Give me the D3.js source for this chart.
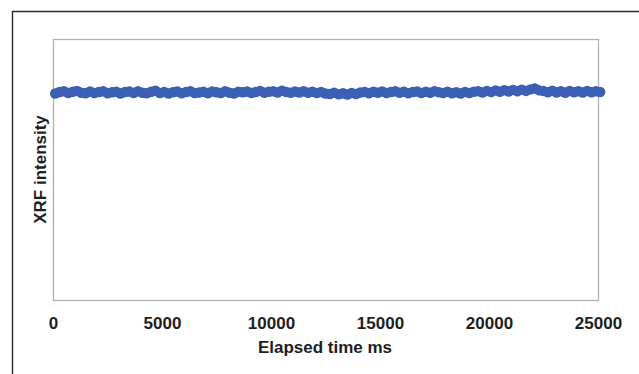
<!DOCTYPE html>
<html>
<head>
<meta charset="utf-8">
<script src="https://cdn.jsdelivr.net/npm/d3@7"></script>
<style>
  body { margin: 0; background: #fff; }
  svg { display: block; font-family: "Liberation Sans", Arial, sans-serif; }
</style>
</head>
<body>
<div id="chart"></div>
<script>
// XRF intensity samples, one every 200 ms starting at 100 ms
const sampleStartMs = 100;
const sampleStepMs = 200;
const intensity = [
  79.1, 79.7, 80.0, 79.3, 79.8, 80.1, 79.4, 79.2, 79.9, 79.3, 79.7,
  80.0, 79.2, 79.6, 79.8, 79.1, 79.7, 79.9, 79.3, 80.0, 79.4, 79.2,
  79.8, 80.2, 79.3, 79.7, 79.1, 79.6, 79.9, 79.2, 79.7, 80.0, 79.3,
  79.5, 79.8, 79.2, 79.9, 79.6, 79.3, 80.0, 79.4, 79.1, 79.8, 79.6,
  79.9, 79.3, 79.7, 80.1, 79.4, 79.8, 80.0, 79.5, 80.2, 79.7, 79.4,
  79.9, 79.5, 80.0, 79.4, 79.8, 79.3, 79.7, 79.1, 78.9, 79.4, 78.8,
  79.2, 78.7, 79.3, 78.9, 79.5, 79.7, 79.2, 79.8, 79.4, 79.9, 79.3,
  79.7, 80.0, 79.4, 79.8, 79.2, 79.7, 79.9, 79.3, 79.8, 79.4, 80.0,
  79.6, 79.3, 79.8, 79.2, 79.6, 79.1, 79.7, 79.3, 79.8, 80.0, 79.5,
  80.1, 79.7, 80.3, 79.8, 80.4, 79.9, 80.5, 80.0, 80.6, 80.1, 80.7,
  81.1, 80.3, 80.1, 79.6, 80.2, 79.5, 80.0, 79.4, 80.1, 79.6, 80.0,
  79.5, 80.1, 79.6, 80.0, 79.7
];
const xTicks = [0, 5000, 10000, 15000, 20000, 25000];
const xTitle = "Elapsed time ms";
const yTitle = "XRF intensity";

const width = 639, height = 374;
const plot = {left: 53, top: 39, right: 598, bottom: 300};

const data = intensity.map((v, i) => ({t: sampleStartMs + i * sampleStepMs, v}));

const svg = d3.select("#chart").append("svg")
  .attr("width", width)
  .attr("height", height);

// outer frame (top and left edges only)
svg.append("path")
  .attr("d", `M12.5,${height}V11.5H${width}`)
  .attr("fill", "none")
  .attr("stroke", "#2b2b2b")
  .attr("stroke-width", 1.4);

const x = d3.scaleLinear().domain([0, 25000]).range([plot.left, plot.right]);
const y = d3.scaleLinear().domain([0, 100]).range([plot.bottom, plot.top]);

// plot area box
svg.append("rect")
  .attr("x", plot.left + 0.5)
  .attr("y", plot.top + 0.5)
  .attr("width", plot.right - plot.left)
  .attr("height", plot.bottom - plot.top)
  .attr("fill", "#fff")
  .attr("stroke", "#b9b0aa")
  .attr("stroke-width", 1.3);

const line = d3.line()
  .x(d => x(d.t))
  .y(d => y(d.v));

svg.append("path")
  .datum(data)
  .attr("d", line)
  .attr("fill", "none")
  .attr("stroke", "#3c5fb6")
  .attr("stroke-width", 9)
  .attr("stroke-linejoin", "round")
  .attr("stroke-linecap", "round");

svg.append("g")
  .attr("fill", "#3c5fb6")
  .selectAll("circle")
  .data(data)
  .join("circle")
  .attr("cx", d => x(d.t))
  .attr("cy", d => y(d.v))
  .attr("r", 5.2);

const xAxis = svg.append("g")
  .attr("transform", `translate(0,${plot.bottom})`)
  .call(d3.axisBottom(x).tickValues(xTicks).tickSize(0).tickPadding(17).tickFormat(d3.format("d")));
xAxis.select(".domain").remove();
xAxis.selectAll("text")
  .attr("font-size", 17)
  .attr("font-weight", "bold")
  .attr("font-family", "'Liberation Sans', Arial, sans-serif")
  .attr("fill", "#1e1e1e");

svg.append("text")
  .attr("x", 325)
  .attr("y", 353)
  .attr("text-anchor", "middle")
  .attr("font-size", 17)
  .attr("font-weight", "bold")
  .attr("fill", "#1e1e1e")
  .text(xTitle);

svg.append("text")
  .attr("transform", `translate(46,${(plot.top + plot.bottom) / 2}) rotate(-90)`)
  .attr("text-anchor", "middle")
  .attr("font-size", 17)
  .attr("font-weight", "bold")
  .attr("fill", "#1e1e1e")
  .text(yTitle);
</script>
</body>
</html>
